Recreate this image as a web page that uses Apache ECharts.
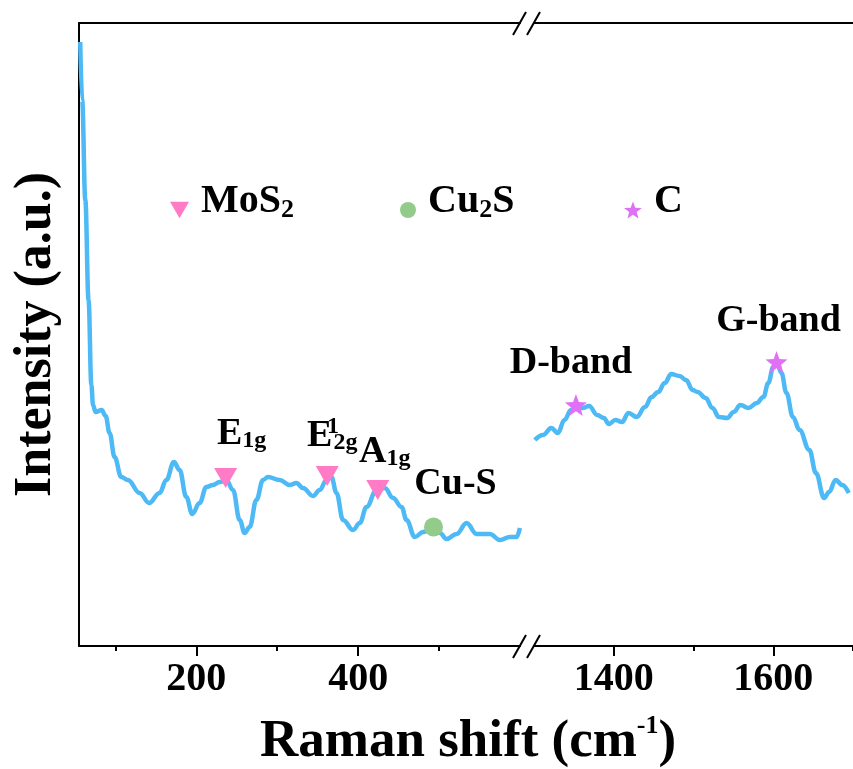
<!DOCTYPE html>
<html lang="en">
<head>
    <meta charset="UTF-8">
    <title>Raman spectrum</title>
    <script src="https://cdn.jsdelivr.net/npm/echarts@6.0.0/dist/echarts.min.js"></script>
    <style>
        html, body { margin: 0; padding: 0; background: #fff; }
        #chart { width: 853px; height: 769px; }
    </style>
</head>
<body>
    <div id="chart"></div>

    <script>
        // low wavenumber part (left of the break)
        const leftShift = [56.5, 58.9, 62.8, 66.8, 70.3, 72.3, 75.5, 82.9, 87.9, 92.8,
            99, 107.2, 115.4, 130, 141.6, 154.6, 162.9, 172.3, 179.3, 187.6,
            195, 204, 212.4, 220.5, 228.8, 237.1, 245.3, 253.6, 259.7, 265.9,
            274.2, 282.4, 288.6, 303, 315.4, 323.7, 331.8, 344.2, 352.5, 360.8,
            367, 373.2, 381.3, 393.7, 402, 410.3, 422.6, 432.9, 443.2, 453.6,
            459.8, 470, 480.3, 492.7, 501, 509.2, 521.6, 534, 546.3, 562.8,
            575.1, 587.5, 595.8, 599.9];
        const leftInt = [604, 546, 446, 346, 261, 241, 234, 236, 230, 213,
            189, 169, 166, 153, 143, 153, 166, 184, 176, 149,
            132, 143, 159, 161, 164, 166, 156, 126, 113, 119,
            146, 166, 169, 166, 161, 163, 158, 150, 156, 166,
            169, 153, 126, 116, 123, 139, 156, 158, 148, 139,
            126, 109, 114, 119, 113, 107, 112, 123, 112, 112,
            106, 109, 109, 118];

        // D / G band part (right of the break)
        const rightShift = [1301, 1311.3, 1321.7, 1329.9, 1338.2, 1346.4, 1352.6, 1360.8, 1369.1, 1379.3,
            1387.6, 1393.8, 1402.1, 1410.3, 1418.6, 1428.8, 1439.2, 1447.4, 1455.7, 1463.9,
            1472.1, 1482.5, 1490.7, 1498.9, 1505.1, 1515.4, 1523.7, 1531.9, 1542.2, 1550.5,
            1558.7, 1569.1, 1579.3, 1587.6, 1593.8, 1600, 1604.1, 1610.3, 1616.5, 1624.7,
            1632.9, 1645.3, 1653.5, 1663.8, 1670, 1678.2, 1686.5, 1694.7];
        const rightInt = [206, 211, 218, 213, 226, 236, 240, 238, 240, 231,
            228, 222, 226, 224, 233, 229, 239, 249, 254, 263,
            272, 270, 266, 256, 254, 248, 238, 229, 228, 234,
            241, 238, 243, 249, 263, 279, 284, 273, 253, 229,
            216, 196, 173, 148, 154, 166, 161, 153];

        // peak markers
        const mosShift = [236.2, 361.8, 424.2];
        const mosInt = [168, 170, 156];
        const mosLabels = ['{m|E}{s|1g}', '{m|E}{p|1}{s|2g}', '{m|A}{s|1g}'];
        const cuShift = [493.1];
        const cuInt = [119];
        const cuLabels = ['{m|Cu-S}'];
        const cShift = [1352.6, 1604.1];
        const cInt = [241, 284];
        const cLabels = ['{m|D-band}', '{m|G-band}'];

        const leftMajor = [200, 400];
        const leftMinor = [100, 300, 500];
        const rightMajor = [1400, 1600];
        const rightMinor = [1500, 1700];

        const FONT = '"Liberation Serif", "Times New Roman", serif';
        const LINE = '#4db9f5';
        const PINK = '#ff7bc6';
        const GREEN = '#93cb8b';
        const VIOLET = '#e070f6';
        const TRI = 'path://M0,0 L23,0 L11.5,20 Z';
        const STAR = 'path://M50,0 L62.34,33.01 L97.55,34.55 L69.97,56.49 L79.39,90.45 L50,71 L20.61,90.45 L30.03,56.49 L2.45,34.55 L37.66,33.01 Z';

        const chart = echarts.init(document.getElementById('chart'));

        const zip = (xs, ys) => xs.map((x, i) => [x, ys[i]]);

        const labelRich = {
            m: { fontFamily: FONT, fontWeight: 'bold', fontSize: 38, color: '#000', lineHeight: 40, verticalAlign: 'bottom' },
            s: { fontFamily: FONT, fontWeight: 'bold', fontSize: 24, color: '#000', lineHeight: 22, verticalAlign: 'bottom' },
            p: { fontFamily: FONT, fontWeight: 'bold', fontSize: 24, color: '#000', lineHeight: 36, verticalAlign: 'top', width: 1 }
        };

        // label offsets, one per marker
        const mosOffset = [[16, -10], [5, -6], [7, -4]];
        const cuOffset = [[22, -9]];
        const cOffset = [[-5, -7], [2, -6]];

        function markerData(xs, ys, labels, offsets) {
            return xs.map((x, i) => ({
                value: [x, ys[i]],
                label: { formatter: labels[i], offset: offsets[i] }
            }));
        }

        const axisLine = { show: true, onZero: false, lineStyle: { color: '#000', width: 2 } };
        const tickFont = { fontFamily: FONT, fontWeight: 'bold', fontSize: 40, color: '#000', margin: 14 };

        function bottomAxes(grid, min, max, major, minor) {
            return [
                {
                    type: 'value', gridIndex: grid, position: 'bottom', min: min, max: max,
                    axisLine: axisLine,
                    axisTick: { show: true, customValues: major, length: 10, lineStyle: { width: 2, color: '#000' } },
                    axisLabel: Object.assign({ customValues: major, formatter: v => String(v) }, tickFont),
                    splitLine: { show: false }
                },
                {
                    type: 'value', gridIndex: grid, position: 'bottom', min: min, max: max,
                    axisLine: { show: false },
                    axisTick: { show: true, customValues: minor, length: 5, lineStyle: { width: 2, color: '#000' } },
                    axisLabel: { show: false },
                    splitLine: { show: false }
                },
                {
                    type: 'value', gridIndex: grid, position: 'top', min: min, max: max,
                    axisLine: axisLine,
                    axisTick: { show: false },
                    axisLabel: { show: false },
                    splitLine: { show: false }
                }
            ];
        }

        function legendItem(name, icon, left, w, h) {
            return {
                data: [name],
                left: left, top: 182, padding: 0,
                icon: icon, itemWidth: w, itemHeight: h,
                selectedMode: false,
                formatter: n => n === 'MoS2' ? '{b|MoS}{s|2}' : n === 'Cu2S' ? '{b|Cu}{s|2}{b|S}' : '{b|C}',
                textStyle: {
                    rich: {
                        b: { fontFamily: FONT, fontWeight: 'bold', fontSize: 40, color: '#000', padding: [0, 0, 10, 0], lineHeight: 44, verticalAlign: 'bottom' },
                        s: { fontFamily: FONT, fontWeight: 'bold', fontSize: 26, color: '#000', padding: [0, 0, 9, 0], lineHeight: 30, verticalAlign: 'bottom' }
                    },
                    padding: [0, 0, 0, 7]
                }
            };
        }

        const option = {
            animation: false,
            backgroundColor: '#fff',
            title: {
                text: '{a|Raman shift (cm}{s|-1}{a|)}',
                left: 260, top: 713, padding: 0,
                textStyle: {
                    rich: {
                        a: { fontFamily: FONT, fontWeight: 'bold', fontSize: 53, color: '#000', lineHeight: 56, verticalAlign: 'bottom' },
                        s: { fontFamily: FONT, fontWeight: 'bold', fontSize: 26, color: '#000', lineHeight: 50, verticalAlign: 'top' }
                    }
                }
            },
            legend: [
                legendItem('MoS2', TRI, 170, 19, 17),
                legendItem('Cu2S', 'circle', 400, 16, 16),
                legendItem('C', STAR, 624, 18, 17)
            ],
            grid: [
                { left: 79, top: 23, width: 441, bottom: 123 },
                { left: 534, top: 23, width: 323.4, bottom: 123 }
            ],
            xAxis: bottomAxes(0, 55, 600, leftMajor, leftMinor)
                .concat(bottomAxes(1, 1300, 1700, rightMajor, rightMinor)),
            yAxis: [
                {
                    type: 'value', gridIndex: 0, min: 0, max: 623,
                    name: 'Intensity (a.u.)', nameLocation: 'middle', nameRotate: 90, nameGap: 16,
                    nameTextStyle: { fontFamily: FONT, fontWeight: 'bold', fontSize: 52, color: '#000' },
                    axisLine: axisLine, axisTick: { show: false }, axisLabel: { show: false },
                    splitLine: { show: false }
                },
                { type: 'value', gridIndex: 1, min: 0, max: 623, show: false, splitLine: { show: false } }
            ],
            series: [
                {
                    name: 'low', type: 'line', xAxisIndex: 0, yAxisIndex: 0,
                    data: zip(leftShift, leftInt), showSymbol: false,
                    smooth: 0.4, smoothMonotone: 'x',
                    lineStyle: { color: LINE, width: 4.5 }
                },
                {
                    name: 'high', type: 'line', xAxisIndex: 3, yAxisIndex: 1,
                    data: zip(rightShift, rightInt), showSymbol: false,
                    smooth: 0.4, smoothMonotone: 'x',
                    lineStyle: { color: LINE, width: 4.5 }
                },
                {
                    name: 'MoS2', type: 'scatter', xAxisIndex: 0, yAxisIndex: 0, z: 5,
                    symbol: TRI, symbolSize: [23, 20], itemStyle: { color: PINK, opacity: 1 },
                    label: { show: true, position: 'top', distance: 5, rich: labelRich },
                    data: markerData(mosShift, mosInt, mosLabels, mosOffset)
                },
                {
                    name: 'Cu2S', type: 'scatter', xAxisIndex: 0, yAxisIndex: 0, z: 5,
                    symbol: 'circle', symbolSize: 19, itemStyle: { color: GREEN, opacity: 1 },
                    label: { show: true, position: 'top', distance: 5, rich: labelRich },
                    data: markerData(cuShift, cuInt, cuLabels, cuOffset)
                },
                {
                    name: 'C', type: 'scatter', xAxisIndex: 3, yAxisIndex: 1, z: 5,
                    symbol: STAR, symbolSize: 22, itemStyle: { color: VIOLET, opacity: 1 },
                    label: { show: true, position: 'top', distance: 5, rich: labelRich },
                    data: markerData(cShift, cInt, cLabels, cOffset)
                }
            ],
            graphic: [
                // axis break marks
                { type: 'line', shape: { x1: 513, y1: 35, x2: 526, y2: 12 }, style: { stroke: '#000', lineWidth: 2 } },
                { type: 'line', shape: { x1: 527, y1: 35, x2: 540, y2: 12 }, style: { stroke: '#000', lineWidth: 2 } },
                { type: 'line', shape: { x1: 513, y1: 658, x2: 526, y2: 635 }, style: { stroke: '#000', lineWidth: 2 } },
                { type: 'line', shape: { x1: 527, y1: 658, x2: 540, y2: 635 }, style: { stroke: '#000', lineWidth: 2 } }
            ]
        };

        chart.setOption(option);
    </script>
</body>
</html>
